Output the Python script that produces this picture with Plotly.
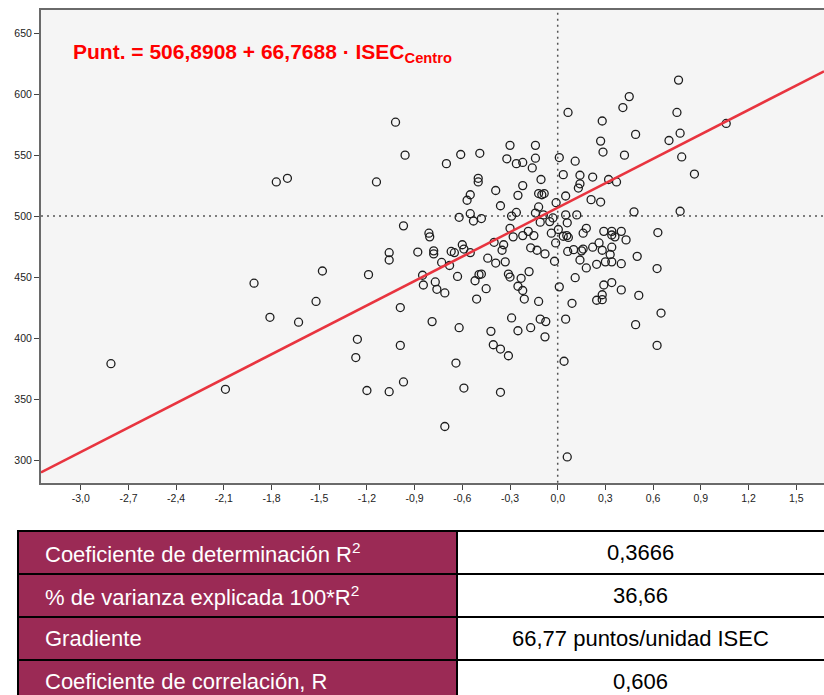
import plotly.graph_objects as go

W, H = 824, 695

# Centred socio-economic index (ISEC) and score of each school
isec = [
    -2.81, -2.09, -1.91, -1.81, -1.63, -1.52, -1.48, -1.19, -1.06, -1.06,
    -1.26, -1.27, -0.99, -0.99, -1.20, -1.06, -0.97, -1.77, -1.70, -1.14,
    -1.02, -0.96, -0.97, -0.70, -0.61, -0.49, -0.50, -0.50, -0.55, -0.57,
    -0.62, -0.55, -0.53, -0.81, 0.065, 0.41, 0.28, 0.27, 0.285, 0.42,
    -0.30, -0.14, -0.32, -0.26, -0.22, -0.14, -0.16, 0.01, 0.11, -0.105,
    0.035, 0.14, 0.22, 0.32, 0.37, 0.14, 0.13, -0.22, -0.39, -0.25,
    -0.12, -0.10, -0.085, -0.36, -0.26, -0.29, -0.48, -0.12, -0.01, 0.05,
    0.21, 0.27, -0.14, -0.09, -0.03, 0.05, 0.12, -0.30, -0.11, -0.05,
    0.06, 0.18, 0.29, 0.34, 0.40, -0.185, 0.004, 0.76, 0.45, 0.75,
    1.06, 0.49, 0.77, 0.70, 0.78, 0.86, 0.48, 0.77, 0.63, -0.805,
    -0.88, -0.78, -0.78, -0.67, -0.65, -0.60, -0.59, -0.55, -0.73, -0.68,
    -0.63, -0.52, -0.495, -0.85, -0.845, -0.77, -0.76, -0.71, -0.51, -0.79,
    -0.62, -0.64, -0.40, -0.28, -0.22, -0.15, -0.04, 0.035, 0.057, 0.067,
    0.16, 0.34, 0.36, 0.43, -0.013, -0.34, -0.35, -0.17, -0.13, -0.08,
    0.063, 0.10, 0.15, 0.16, 0.22, 0.26, 0.28, 0.33, 0.34, -0.02,
    0.14, 0.18, 0.245, 0.30, 0.34, 0.40, -0.44, -0.39, -0.33, -0.48,
    -0.31, -0.30, -0.23, -0.18, -0.25, -0.22, -0.21, -0.45, -0.12, 0.01,
    0.11, 0.09, 0.29, 0.34, 0.40, 0.245, 0.28, 0.28, -0.29, -0.11,
    -0.075, -0.17, -0.25, -0.42, -0.08, 0.05, -0.405, -0.36, -0.31, 0.04,
    0.49, 0.65, 0.625, 0.625, 0.51, 0.50, 0.06, -0.71, -0.59, -0.36,
]
punt = [
    379, 358, 445, 417, 413, 430, 455, 452, 470, 464,
    399, 384, 425, 394, 357, 356, 364, 528, 531, 528,
    577, 550, 492, 543, 550.5, 551.5, 528, 531, 517.5, 513,
    499, 502, 496, 486, 585, 589, 578, 561.5, 552.5, 550,
    558, 558, 547, 543, 544, 547.5, 539.5, 548, 545, 530,
    534, 533.5, 532, 530, 528, 526.5, 523, 525, 521, 517,
    518.5, 517.5, 518.5, 508.5, 503, 500, 498, 507.5, 511, 516.5,
    513.5, 511.5, 502.5, 501, 498.5, 501, 501, 490, 495, 495.5,
    494.5, 490, 487.5, 487.5, 487.5, 487.5, 489, 611.5, 598, 585,
    576, 567, 568, 562, 548.5, 534.5, 503.5, 504, 486.5, 483,
    470.5, 469, 471.5, 471, 470, 476.5, 473, 470, 462, 459.5,
    450.5, 447, 452, 451.5, 443.5, 446, 440, 437, 432, 413.5,
    408.5, 379.5, 478.5, 483, 484, 484, 486, 483.5, 484, 482.5,
    486, 484.5, 483, 480.5, 478, 476.5, 472, 474, 472, 469,
    471, 472.5, 471.5, 473, 474.5, 478, 472, 468.5, 474.5, 463,
    464, 457.5, 460.5, 462.5, 462.5, 461, 465.5, 461.5, 462.5, 452.5,
    452.5, 450, 449, 454.5, 442.5, 439, 432, 440.5, 430, 442,
    449.5, 428.5, 443.5, 445.5, 439.5, 431, 431.5, 435.5, 416.5, 415.5,
    413.5, 408.5, 406, 405.5, 401, 415.5, 394.5, 391, 385.5, 381,
    411, 420.5, 394, 457, 435, 467, 302.5, 327.5, 359, 355.5,
]

# Fitted regression: Punt. = intercept + slope * ISEC
intercept = 506.8908
slope = 66.7688

x_tick_vals = [-3.0, -2.7, -2.4, -2.1, -1.8, -1.5, -1.2, -0.9, -0.6, -0.3,
               0.0, 0.3, 0.6, 0.9, 1.2, 1.5]
x_tick_text = ["-3,0", "-2,7", "-2,4", "-2,1", "-1,8", "-1,5", "-1,2", "-0,9",
               "-0,6", "-0,3", "0,0", "0,3", "0,6", "0,9", "1,2", "1,5"]
y_tick_vals = [300, 350, 400, 450, 500, 550, 600, 650]

x_range = [-3.25, 1.675]
y_range = [281.4, 669.0]

ref_x = 0.0
ref_y = 500

table_labels = [
    "Coeficiente de determinación R<sup>2</sup>",
    "% de varianza explicada 100*R<sup>2</sup>",
    "Gradiente",
    "Coeficiente de correlación, R",
]
table_values = ["0,3666", "36,66", "66,77 puntos/unidad ISEC", "0,606"]

FONT = "Liberation Sans, Arial, sans-serif"
MAROON = "#9b2a55"

fig = go.Figure()

fig.add_trace(go.Scatter(
    x=isec, y=punt, mode="markers",
    marker=dict(symbol="circle-open", size=8, color="#1e1e1e",
                line=dict(width=1.3, color="#1e1e1e")),
    hoverinfo="skip", showlegend=False,
))

fit_x = list(x_range)
fit_y = [intercept + slope * v for v in fit_x]
fig.add_trace(go.Scatter(
    x=fit_x, y=fit_y, mode="lines",
    line=dict(color="#e8343f", width=2.6),
    hoverinfo="skip", showlegend=False,
))

# dotted reference lines through the means
fig.add_shape(type="line", xref="x", yref="y domain", x0=ref_x, x1=ref_x, y0=0, y1=1,
              line=dict(color="#555555", width=1.5, dash="2px,4px"), layer="below")
fig.add_shape(type="line", xref="x domain", yref="y", x0=0, x1=1, y0=ref_y, y1=ref_y,
              line=dict(color="#555555", width=1.5, dash="2px,4px"), layer="below")

fig.add_annotation(
    xref="paper", yref="paper", x=71 / W, y=1 - 53 / H,
    xanchor="left", yanchor="middle", showarrow=False,
    text="<b>Punt. = 506,8908 + 66,7688 · ISEC<sub>Centro</sub></b>",
    font=dict(family=FONT, size=21, color="#ff0000"),
)

# summary table below the chart
tbl_left, tbl_mid, tbl_right = 18, 457, 830
tbl_top, row_h = 531, 43
for i, (lab, val) in enumerate(zip(table_labels, table_values)):
    top = tbl_top + i * row_h
    bot = top + row_h
    fig.add_shape(type="rect", xref="paper", yref="paper",
                  x0=tbl_left / W, x1=tbl_mid / W, y0=1 - bot / H, y1=1 - top / H,
                  fillcolor=MAROON, line=dict(color="black", width=2), layer="above")
    fig.add_shape(type="rect", xref="paper", yref="paper",
                  x0=tbl_mid / W, x1=tbl_right / W, y0=1 - bot / H, y1=1 - top / H,
                  fillcolor="white", line=dict(color="black", width=2), layer="above")
    cy = 1 - (top + row_h / 2) / H
    fig.add_annotation(xref="paper", yref="paper", x=43 / W, y=cy,
                       xanchor="left", yanchor="middle", showarrow=False,
                       text=lab, font=dict(family=FONT, size=22, color="white"))
    fig.add_annotation(xref="paper", yref="paper", x=(tbl_mid + 824) / 2 / W, y=cy,
                       xanchor="center", yanchor="middle", showarrow=False,
                       text=val, font=dict(family=FONT, size=22, color="black"))

fig.update_layout(
    width=W, height=H,
    margin=dict(l=0, r=0, t=0, b=0),
    paper_bgcolor="white",
    plot_bgcolor="#f5f5f5",
    font=dict(family=FONT, size=11, color="#222222"),
    xaxis=dict(
        domain=[41 / W, 1.0], range=x_range, autorange=False,
        tickmode="array", tickvals=x_tick_vals, ticktext=x_tick_text,
        showgrid=False, zeroline=False,
        showline=True, linecolor="#6a6a6a", linewidth=2, mirror=True,
        ticks="outside", ticklen=5, tickcolor="#444444", tickwidth=1,
        tickfont=dict(size=10.5, color="#222222"), automargin=False,
    ),
    yaxis=dict(
        domain=[1 - 482.7 / H, 1 - 10 / H], range=y_range, autorange=False,
        tickmode="array", tickvals=y_tick_vals,
        showgrid=False, zeroline=False,
        showline=True, linecolor="#6a6a6a", linewidth=2,
        ticks="outside", ticklen=5, tickcolor="#444444", tickwidth=1,
        tickfont=dict(size=10.5, color="#222222"), automargin=False,
    ),
)

fig.write_html("out.html")
